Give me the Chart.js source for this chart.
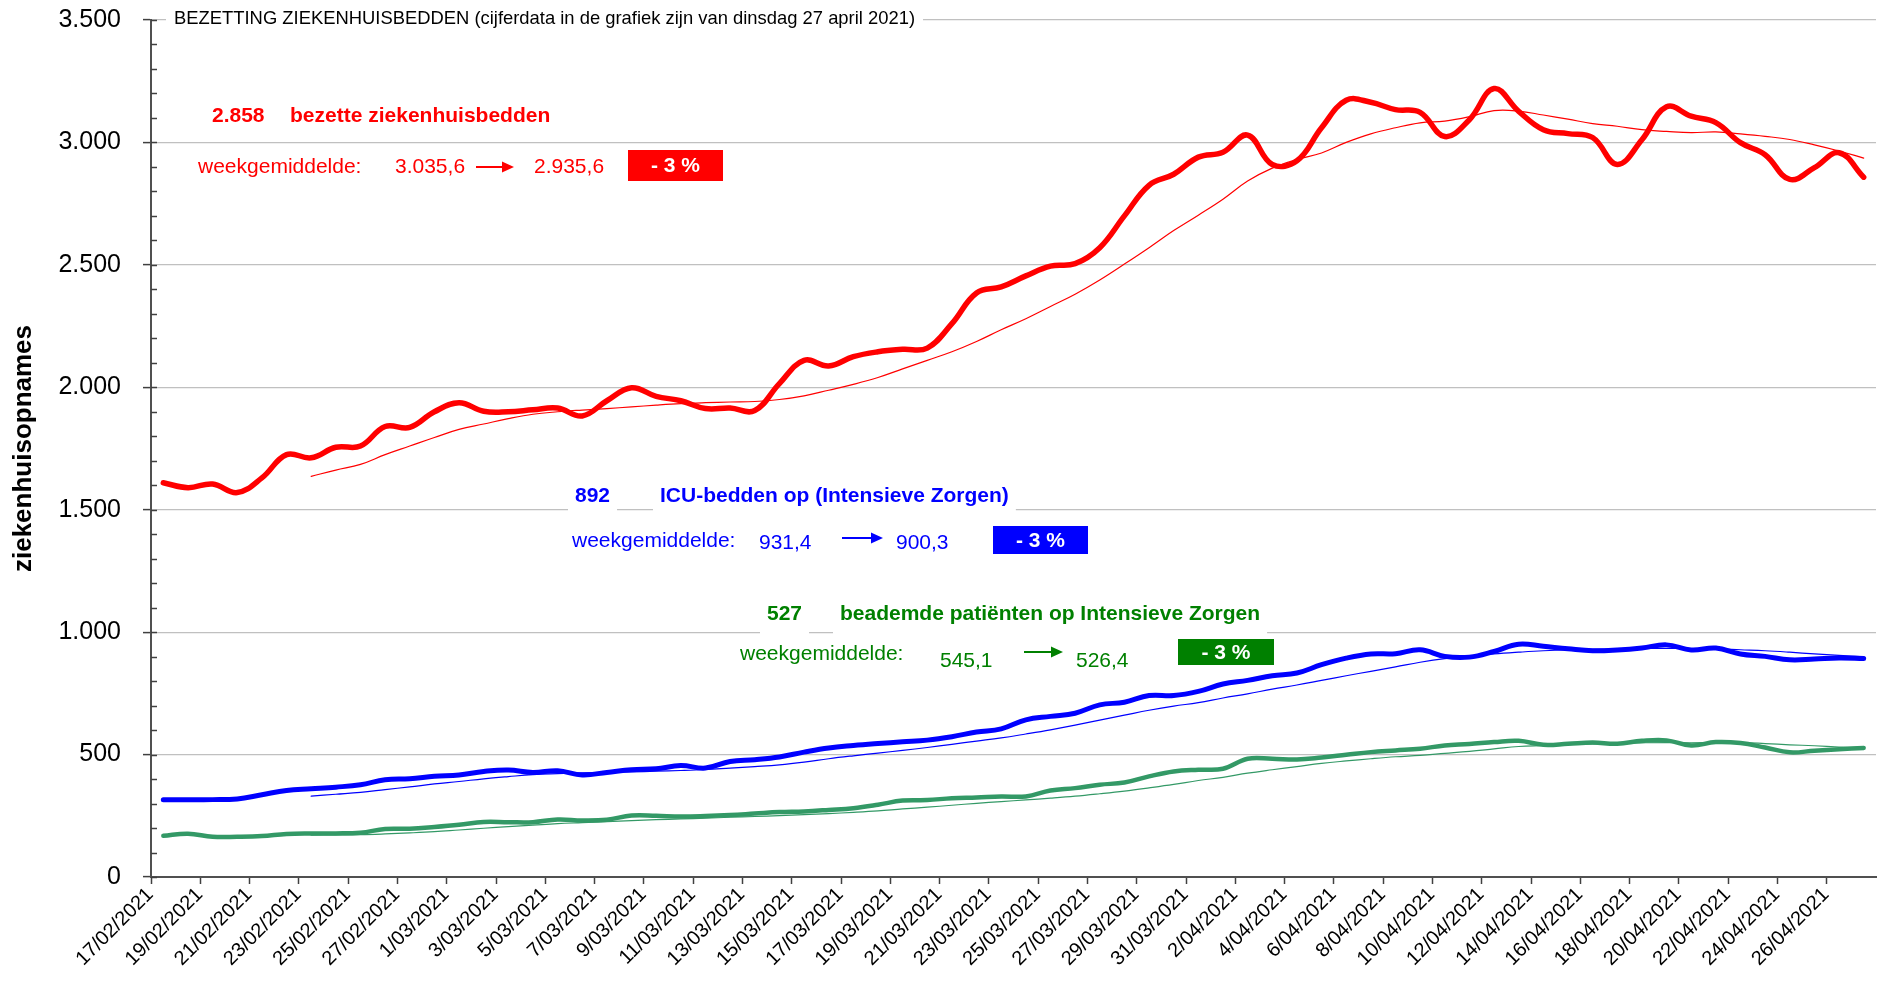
<!DOCTYPE html>
<html>
<head>
<meta charset="utf-8">
<script src="https://cdn.jsdelivr.net/npm/chart.js@4.4.1/dist/chart.umd.min.js"></script>
<style>
  html, body { margin: 0; padding: 0; background: #fff; }
</style>
</head>
<body>
<canvas id="chartBedden" width="1881" height="992"></canvas>
<script>
// Bezetting ziekenhuisbedden 17/02 - 27/04/2021.
const dagen = [
  '17/02/2021', '18/02/2021', '19/02/2021', '20/02/2021', '21/02/2021', '22/02/2021', '23/02/2021',
  '24/02/2021', '25/02/2021', '26/02/2021', '27/02/2021', '28/02/2021', '1/03/2021', '2/03/2021',
  '3/03/2021', '4/03/2021', '5/03/2021', '6/03/2021', '7/03/2021', '8/03/2021', '9/03/2021',
  '10/03/2021', '11/03/2021', '12/03/2021', '13/03/2021', '14/03/2021', '15/03/2021', '16/03/2021',
  '17/03/2021', '18/03/2021', '19/03/2021', '20/03/2021', '21/03/2021', '22/03/2021', '23/03/2021',
  '24/03/2021', '25/03/2021', '26/03/2021', '27/03/2021', '28/03/2021', '29/03/2021', '30/03/2021',
  '31/03/2021', '1/04/2021', '2/04/2021', '3/04/2021', '4/04/2021', '5/04/2021', '6/04/2021',
  '7/04/2021', '8/04/2021', '9/04/2021', '10/04/2021', '11/04/2021', '12/04/2021', '13/04/2021',
  '14/04/2021', '15/04/2021', '16/04/2021', '17/04/2021', '18/04/2021', '19/04/2021', '20/04/2021',
  '21/04/2021', '22/04/2021', '23/04/2021', '24/04/2021', '25/04/2021', '26/04/2021', '27/04/2021',
];

const bezetteBedden = [
  1610, 1590, 1605, 1570, 1630, 1725, 1712, 1755, 1760, 1840,
  1836, 1900, 1937, 1902, 1900, 1908, 1915, 1883, 1945, 1998,
  1963, 1945, 1913, 1915, 1905, 2015, 2110, 2087, 2125, 2145,
  2155, 2160, 2260, 2385, 2410, 2455, 2495, 2505, 2570, 2700,
  2825, 2870, 2940, 2960, 3030, 2910, 2925, 3060, 3172, 3164,
  3134, 3123, 3024, 3093, 3220, 3127, 3052, 3036, 3020, 2910,
  3011, 3146, 3107, 3081, 2999, 2950, 2849, 2897, 2958, 2858,
];
const bezetteBeddenWeek = [
  null, null, null, null, null, null, 1636, 1662, 1685, 1725,
  1760, 1795, 1828, 1850, 1872, 1890, 1900, 1907, 1913, 1920,
  1927, 1933, 1937, 1940, 1942, 1950, 1965, 1988, 2012, 2040,
  2075, 2110, 2145, 2187, 2235, 2280, 2330, 2380, 2438, 2503,
  2570, 2640, 2703, 2768, 2842, 2895, 2930, 2957, 3000, 3035,
  3060, 3080, 3087, 3105, 3130, 3128, 3112, 3095, 3077, 3066,
  3052, 3045, 3040, 3043, 3035, 3025, 3012, 2990, 2965, 2936,
];

const icuBedden = [
  316, 316, 316, 319, 336, 353, 360, 367, 377, 397,
  401, 411, 417, 431, 437, 427, 434, 417, 427, 438,
  442, 455, 445, 472, 479, 490, 510, 527, 537, 545,
  552, 559, 573, 592, 605, 642, 656, 669, 703, 714,
  741, 741, 758, 788, 803, 822, 833, 867, 894, 911,
  912, 928, 901, 898, 921, 951, 942, 932, 924, 927,
  935, 948, 927, 935, 911, 901, 887, 890, 894, 892,
];
const icuBeddenWeek = [
  null, null, null, null, null, null, 330, 338, 346, 357,
  368, 380, 390, 401, 410, 418, 422, 425, 427, 429,
  432, 435, 439, 445, 451, 458, 469, 483, 495, 506,
  517, 529, 542, 555, 568, 584, 601, 620, 641, 661,
  681, 698, 712, 731, 748, 767, 784, 803, 822, 840,
  858, 877, 892, 902, 911, 918, 924, 928, 930, 932,
  933, 934, 933, 932, 928, 924, 918, 911, 905, 900,
];

const beademd = [
  168, 177, 164, 164, 167, 176, 178, 178, 181, 196,
  197, 204, 213, 225, 224, 224, 235, 231, 234, 251,
  250, 247, 249, 253, 259, 265, 268, 274, 281, 295,
  312, 314, 322, 325, 329, 329, 353, 363, 377, 386,
  411, 431, 438, 442, 483, 483, 480, 488, 499, 510,
  517, 524, 537, 543, 551, 556, 540, 544, 549, 544,
  556, 558, 537, 551, 547, 529, 509, 516, 522, 527,
];
const beademdWeek = [
  null, null, null, null, null, null, 171, 172, 173, 176,
  180, 185, 192, 199, 206, 212, 218, 222, 226, 230,
  234, 237, 240, 244, 247, 251, 255, 259, 264, 270,
  278, 285, 293, 301, 308, 315, 322, 330, 340, 351,
  364, 378, 394, 407, 424, 438, 451, 464, 474, 483,
  491, 497, 505, 513, 523, 533, 537, 541, 544, 546,
  548, 549, 548, 549, 549, 545, 540, 536, 531, 526,
];

const ROOD = '#ff0000';
const BLAUW = '#0000ff';
const GROEN_LIJN = '#339966';
const GROEN_TEKST = '#008000';
const FONT = "'Liberation Sans', Arial, Helvetica, sans-serif";

Chart.defaults.font.family = FONT;
Chart.defaults.color = '#000';

function duizendtal(v) {
  return String(v).replace(/\B(?=(\d{3})+(?!\d))/g, '.');
}

function tekst(ctx, str, x, y, kleur, vet, wit) {
  ctx.font = (vet ? 'bold ' : '') + '21px ' + FONT;
  const w = ctx.measureText(str).width;
  if (wit) {
    ctx.fillStyle = '#fff';
    ctx.fillRect(x - 7, y - 21, w + 14, 35);
  }
  ctx.fillStyle = kleur;
  ctx.textAlign = 'left';
  ctx.textBaseline = 'alphabetic';
  ctx.fillText(str, x, y);
}

function pijl(ctx, x1, x2, y, kleur) {
  ctx.strokeStyle = kleur;
  ctx.fillStyle = kleur;
  ctx.lineWidth = 2;
  ctx.beginPath();
  ctx.moveTo(x1, y);
  ctx.lineTo(x2 - 10, y);
  ctx.stroke();
  ctx.beginPath();
  ctx.moveTo(x2, y);
  ctx.lineTo(x2 - 12, y - 5.5);
  ctx.lineTo(x2 - 12, y + 5.5);
  ctx.closePath();
  ctx.fill();
}

function vak(ctx, x1, y1, x2, y2, kleur, str) {
  ctx.fillStyle = kleur;
  ctx.fillRect(x1, y1, x2 - x1, y2 - y1);
  ctx.font = 'bold 21px ' + FONT;
  ctx.fillStyle = '#fff';
  ctx.textAlign = 'center';
  ctx.textBaseline = 'middle';
  ctx.fillText(str, (x1 + x2) / 2, (y1 + y2) / 2 + 1);
}

const kleineStreepjes = {
  id: 'kleineStreepjes',
  afterDatasetsDraw(chart) {
    const { ctx, scales: { y } } = chart;
    ctx.save();
    ctx.strokeStyle = '#404040';
    ctx.lineWidth = 1.5;
    for (let v = 0; v <= 3500; v += 100) {
      const py = Math.round(y.getPixelForValue(v)) + 0.5;
      ctx.beginPath();
      ctx.moveTo(y.right, py);
      ctx.lineTo(y.right + 6, py);
      ctx.stroke();
    }
    ctx.restore();
  },
};

const annotaties = {
  id: 'annotaties',
  afterDraw(chart) {
    const ctx = chart.ctx;
    ctx.save();

    ctx.font = '18.4px ' + FONT;
    const titel = 'BEZETTING ZIEKENHUISBEDDEN (cijferdata in de grafiek zijn van dinsdag 27 april 2021)';
    const tw = ctx.measureText(titel).width;
    ctx.fillStyle = '#fff';
    ctx.fillRect(166, 4, tw + 16, 30);
    ctx.fillStyle = '#000';
    ctx.textBaseline = 'alphabetic';
    ctx.fillText(titel, 174, 24);

    // rood
    tekst(ctx, '2.858', 212, 122, ROOD, true, true);
    tekst(ctx, 'bezette ziekenhuisbedden', 290, 122, ROOD, true, true);
    tekst(ctx, 'weekgemiddelde:', 198, 173, ROOD, false, false);
    tekst(ctx, '3.035,6', 395, 173, ROOD, false, false);
    pijl(ctx, 476, 514, 167, ROOD);
    tekst(ctx, '2.935,6', 534, 173, ROOD, false, false);
    vak(ctx, 628, 150, 723, 181, ROOD, '- 3 %');

    // blauw
    tekst(ctx, '892', 575, 502, BLAUW, true, true);
    tekst(ctx, 'ICU-bedden op (Intensieve Zorgen)', 660, 502, BLAUW, true, true);
    tekst(ctx, 'weekgemiddelde:', 572, 547, BLAUW, false, false);
    tekst(ctx, '931,4', 759, 549, BLAUW, false, false);
    pijl(ctx, 842, 883, 538, BLAUW);
    tekst(ctx, '900,3', 896, 549, BLAUW, false, false);
    vak(ctx, 993, 526, 1088, 554, BLAUW, '- 3 %');

    // groen
    tekst(ctx, '527', 767, 620, GROEN_TEKST, true, true);
    tekst(ctx, 'beademde patiënten op Intensieve Zorgen', 840, 620, GROEN_TEKST, true, true);
    tekst(ctx, 'weekgemiddelde:', 740, 660, GROEN_TEKST, false, false);
    tekst(ctx, '545,1', 940, 667, GROEN_TEKST, false, false);
    pijl(ctx, 1024, 1063, 652, GROEN_TEKST);
    tekst(ctx, '526,4', 1076, 667, GROEN_TEKST, false, false);
    vak(ctx, 1178, 639, 1274, 665, GROEN_TEKST, '- 3 %');

    ctx.restore();
  },
};

function lijn(data, kleur, breedte) {
  return {
    data,
    borderColor: kleur,
    borderWidth: breedte,
    pointRadius: 0,
    tension: 0.4,
    fill: false,
    spanGaps: false,
    borderCapStyle: 'round',
    borderJoinStyle: 'round',
  };
}

new Chart(document.getElementById('chartBedden'), {
  type: 'line',
  data: {
    labels: dagen,
    datasets: [
      lijn(bezetteBeddenWeek, ROOD, 1.2),
      lijn(icuBeddenWeek, BLAUW, 1.2),
      lijn(beademdWeek, GROEN_LIJN, 1.2),
      lijn(bezetteBedden, ROOD, 5.5),
      lijn(icuBedden, BLAUW, 5),
      lijn(beademd, GROEN_LIJN, 4.5),
    ],
  },
  options: {
    responsive: false,
    animation: false,
    devicePixelRatio: 1,
    layout: { padding: { top: 20, right: 5, left: 0, bottom: 0 } },
    plugins: {
      legend: { display: false },
      tooltip: { enabled: false },
    },
    scales: {
      x: {
        type: 'category',
        offset: true,
        afterFit: (scale) => { scale.height = 115; },
        grid: {
          offset: true,
          drawOnChartArea: false,
          drawTicks: true,
          tickLength: 7,
          tickWidth: 1.5,
          tickColor: (ctx) => (ctx.index % 2 === 0 ? '#404040' : 'rgba(0,0,0,0)'),
        },
        border: { display: true, color: '#505050', width: 2 },
        ticks: {
          autoSkip: false,
          minRotation: 45,
          maxRotation: 45,
          padding: -1,
          labelOffset: -13,
          color: '#000',
          font: { size: 20 },
          callback: (value, index) => (index % 2 === 0 ? dagen[index] : ''),
        },
      },
      y: {
        min: 0,
        max: 3500,
        afterFit: (scale) => {
          scale.width = 151;
          scale.paddingTop = 0;
          scale.paddingBottom = 0;
        },
        title: {
          display: true,
          text: 'ziekenhuisopnames',
          color: '#000',
          font: { size: 26, weight: 'bold' },
          padding: { top: 8, bottom: 0 },
        },
        grid: {
          color: (ctx) => (ctx.tick && ctx.tick.value % 500 === 0 ? '#c0c0c0' : 'rgba(0,0,0,0)'),
          lineWidth: 1.2,
          tickLength: 8,
          tickWidth: 1.5,
          tickColor: (ctx) => (ctx.tick && ctx.tick.value % 500 === 0 ? '#404040' : 'rgba(0,0,0,0)'),
        },
        border: { display: true, color: '#505050', width: 2 },
        ticks: {
          stepSize: 100,
          autoSkip: false,
          padding: 22,
          color: '#000',
          font: { size: 25 },
          callback: (value) => (value % 500 === 0 ? duizendtal(value) : ''),
        },
      },
    },
  },
  plugins: [kleineStreepjes, annotaties],
});
</script>
</body>
</html>
